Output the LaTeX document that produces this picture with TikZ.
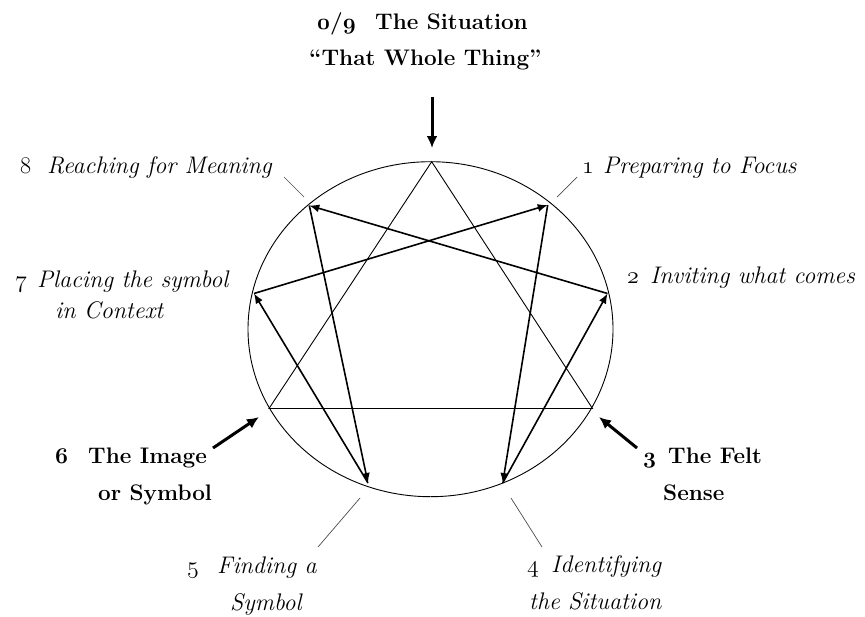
\documentclass[tikz,border=0pt]{standalone}
\usepackage{fix-cm}
\usetikzlibrary{arrows.meta}
\newcommand{\bosn}[1]{{\usefont{OML}{cmm}{b}{it}#1}}
\newcommand{\rosn}[1]{{\usefont{OML}{cmm}{m}{it}#1}}
\tikzset{
  lbl/.style={anchor=base west, inner sep=0pt, font=\fontsize{24}{28}\selectfont\itshape},
  num/.style={anchor=base west, inner sep=0pt, font=\fontsize{24}{28}\selectfont},
  blbl/.style={anchor=base west, inner sep=0pt, font=\fontsize{22.5}{26}\selectfont\bfseries},
  thinline/.style={line width=0.9pt},
  hex/.style={line width=1.6pt, -{Latex[length=10pt,width=8pt]}},
  bigarrow/.style={line width=3pt, -{Latex[length=12pt,width=11pt]}},
  tickline/.style={line width=0.7pt, black!70}
}
\begin{document}
\begin{tikzpicture}[x=1pt,y=-1pt]
\useasboundingbox (0,0) rectangle (865,616);
% enneagram points
\coordinate (c) at (430.5,329.2);
\coordinate (p9) at (431.7,161.7);
\coordinate (p1) at (547.7,205);
\coordinate (p2) at (607.5,293.5);
\coordinate (p3) at (592.5,408.5);
\coordinate (p4) at (502.7,483);
\coordinate (p5) at (368,483);
\coordinate (p6) at (269,408.5);
\coordinate (p7) at (254,293.5);
\coordinate (p8) at (309.3,205.5);
% circle
\draw[thinline] (c) ellipse [x radius=182.5pt, y radius=167.5pt];
% triangle
\draw[thinline] (p9) -- (p3) -- (p6) -- cycle;
% hexad
\draw[hex] (p1) -- (p4);
\draw[hex] (p4) -- (p2);
\draw[hex] (p2) -- (p8);
\draw[hex] (p8) -- (p5);
\draw[hex] (p5) -- (p7);
\draw[hex] (p7) -- (p1);
% ticks
\coordinate (t8a) at (284,177); \coordinate (t8b) at (304,197);
\coordinate (t1a) at (577,177); \coordinate (t1b) at (557,197);
\coordinate (t5a) at (318,547); \coordinate (t5b) at (360,498);
\coordinate (t4a) at (542,547); \coordinate (t4b) at (511,498);
\draw[tickline] (t8a) -- (t8b);
\draw[tickline] (t1a) -- (t1b);
\draw[tickline] (t5a) -- (t5b);
\draw[tickline] (t4a) -- (t4b);
% big arrows
\coordinate (a0s) at (432,97); \coordinate (a0e) at (432,148);
\coordinate (a6s) at (213,448); \coordinate (a6e) at (259,417);
\coordinate (a3s) at (637,448); \coordinate (a3e) at (599,417);
\draw[bigarrow] (a0s) -- (a0e);
\draw[bigarrow] (a6s) -- (a6e);
\draw[bigarrow] (a3s) -- (a3e);
% labels
\node[blbl] (n9) at (317,29) {\bosn{0}/\bosn{9}};
\node[blbl] (t9a) at (375,29) {The Situation};
\node[blbl] (t9b) at (309,65) {``That Whole Thing''};
\node[num] (n8) at (20,173) {8};
\node[lbl] (t8) at (47,173) {Reaching for Meaning};
\node[num] (n7) at (15,287) {\rosn{7}};
\node[lbl] (t7a) at (37,287) {Placing the symbol};
\node[lbl] (t7b) at (55,318) {in Context};
\node[blbl] (n6) at (55,463) {\bosn{6}};
\node[blbl] (t6a) at (88,463) {The Image};
\node[blbl] (t6b) at (98,500) {or Symbol};
\node[num] (n5) at (187,573) {\rosn{5}};
\node[lbl] (t5a) at (217,573) {Finding a};
\node[lbl] (t5b) at (230,610) {Symbol};
\node[num] (n4) at (527,572) {\rosn{4}};
\node[lbl] (t4a) at (551,572) {Identifying};
\node[lbl] (t4b) at (529,609) {the Situation};
\node[blbl] (n3) at (643,463) {\bosn{3}};
\node[blbl] (t3a) at (668,463) {The Felt};
\node[blbl] (t3b) at (663,500) {Sense};
\node[num] (n1) at (582,173) {\rosn{1}};
\node[lbl] (t1) at (603,173) {Preparing to Focus};
\node[num] (n2) at (627,283) {\rosn{2}};
\node[lbl] (t2) at (650,283) {Inviting what comes};
\end{tikzpicture}
\end{document}
